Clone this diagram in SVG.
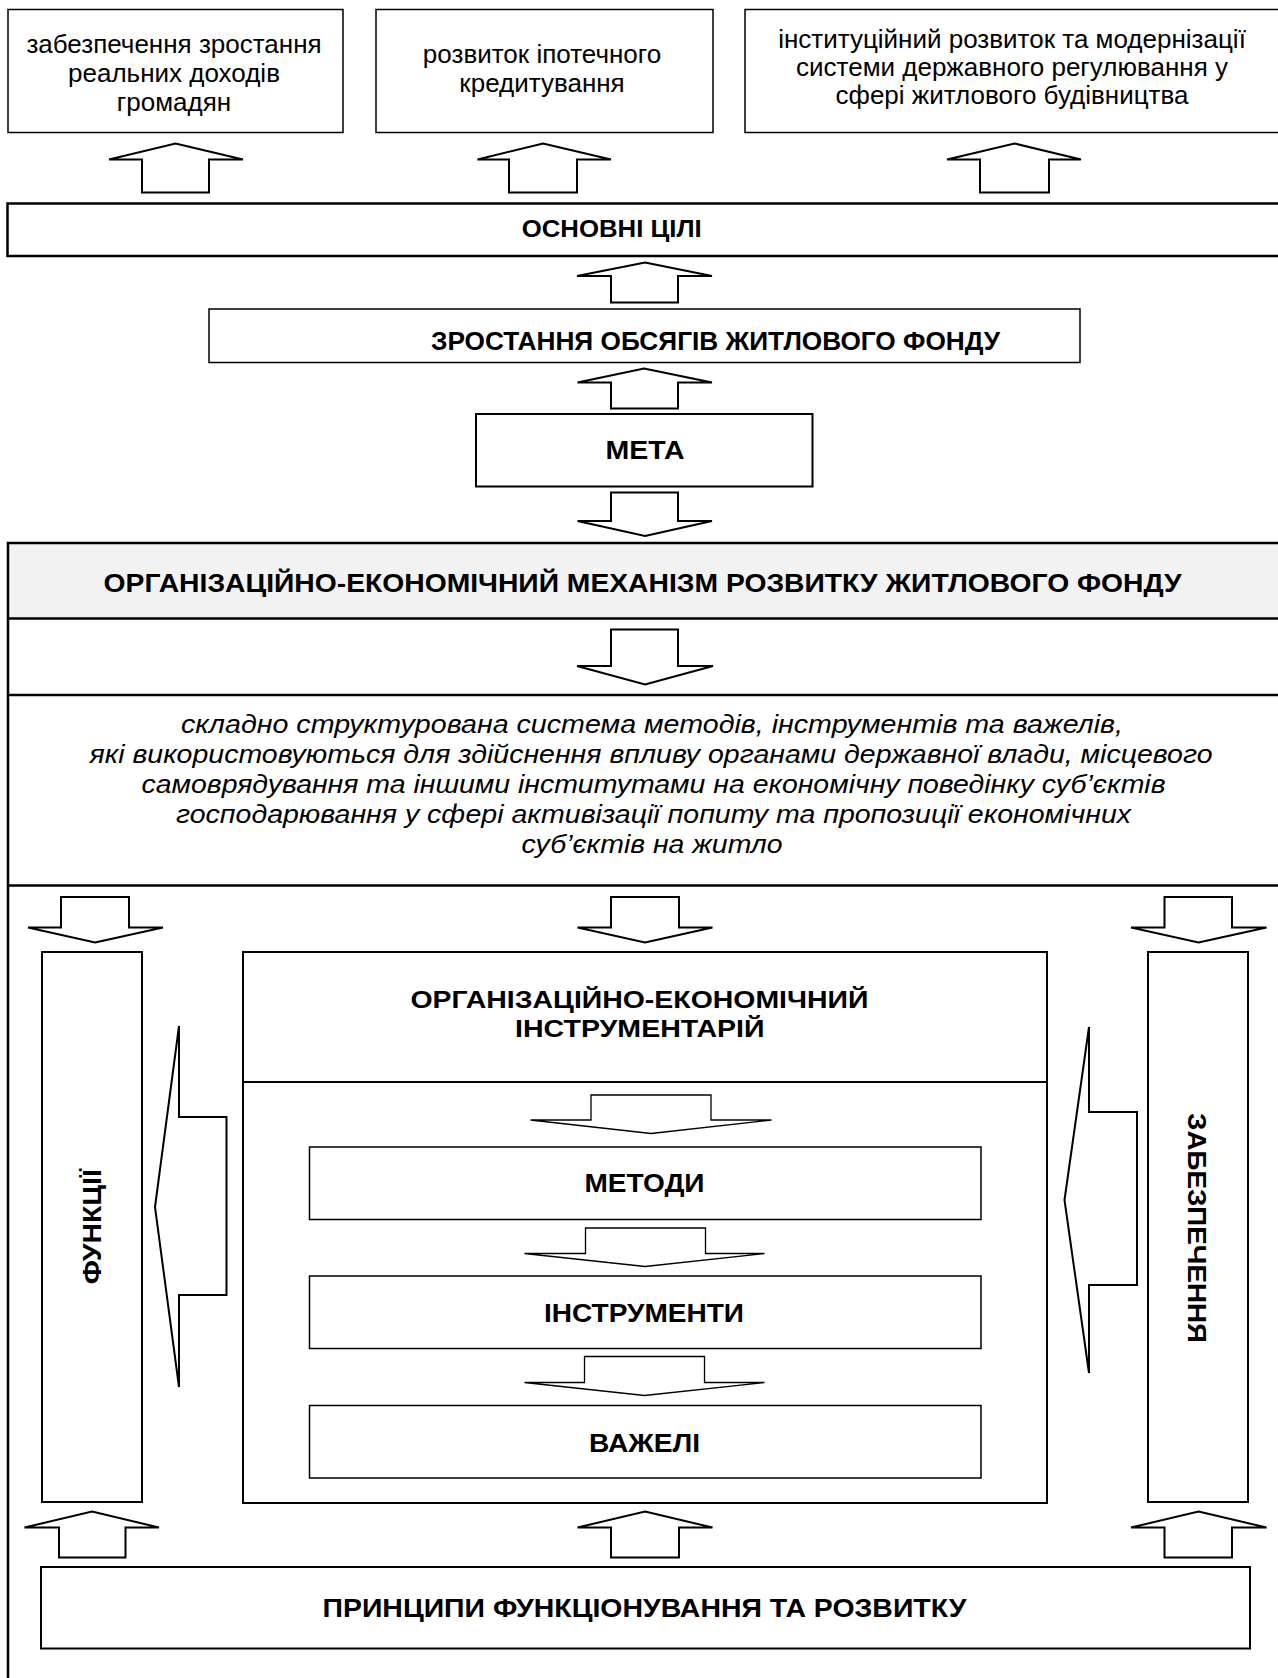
<svg xmlns="http://www.w3.org/2000/svg" width="1278" height="1678" viewBox="0 0 1278 1678">
<style>
.box{fill:#fff;stroke:#000;stroke-width:1.5}
.thick{fill:none;stroke:#000;stroke-width:2.5}
.med{fill:#fff;stroke:#000;stroke-width:2}
.arr{fill:#fff;stroke:#000;stroke-width:2;stroke-linejoin:miter}
.sarr{fill:#fff;stroke:#000;stroke-width:1.3}
.t{font-family:"Liberation Sans",Arial,sans-serif;font-size:26px;fill:#000;text-anchor:middle}
.b{font-family:"Liberation Sans",Arial,sans-serif;font-size:24px;font-weight:bold;fill:#000;text-anchor:middle}
.bl{font-size:26px}
.bm{font-size:25px}
.i{font-family:"Liberation Sans",Arial,sans-serif;font-size:25.5px;font-style:italic;fill:#000;text-anchor:middle}
</style>
<rect width="1278" height="1678" fill="#fff"/>
<g id="goal1"><rect class="box" x="8" y="9.5" width="335" height="123"/>
<text class="t" x="174" y="53">забезпечення зростання</text><text class="t" x="174" y="82">реальних доходів</text><text class="t" x="174" y="111">громадян</text></g>
<g id="goal2"><rect class="box" x="376" y="9.5" width="337" height="123"/>
<text class="t" x="542" y="63">розвиток іпотечного</text><text class="t" x="542" y="92">кредитування</text></g>
<g id="goal3"><rect class="box" x="745" y="9.5" width="545" height="123"/>
<text class="t" x="1012" y="48">інституційний розвиток та модернізації</text><text class="t" x="1012" y="76">системи державного регулювання у</text><text class="t" x="1012" y="104">сфері житлового будівництва</text></g>
<g id="main-goals"><rect class="thick" x="7.5" y="203.5" width="1290" height="52.5"/>
<text class="b" x="611.7" y="236.5" textLength="180" lengthAdjust="spacingAndGlyphs">ОСНОВНІ ЦІЛІ</text></g>
<g id="growth"><rect class="box" x="209" y="309" width="871" height="53.5"/>
<text class="b bm" x="715.5" y="350" textLength="569" lengthAdjust="spacingAndGlyphs">ЗРОСТАННЯ ОБСЯГІВ ЖИТЛОВОГО ФОНДУ</text></g>
<g id="meta"><rect class="med" x="476" y="414" width="336.5" height="72.5"/>
<text class="b bm" x="645" y="459" textLength="79" lengthAdjust="spacingAndGlyphs">МЕТА</text></g>
<g id="mechanism">
<rect x="8" y="543" width="1290" height="75" fill="#f2f2f2"/>
<rect class="thick" x="8" y="543" width="1290" height="1200"/>
<line class="thick" x1="8" y1="618.5" x2="1290" y2="618.5"/>
<line class="thick" x1="8" y1="695" x2="1290" y2="695"/>
<line class="thick" x1="8" y1="885.5" x2="1290" y2="885.5"/>
<text class="b bm" x="642.6" y="592" textLength="1078" lengthAdjust="spacingAndGlyphs">ОРГАНІЗАЦІЙНО-ЕКОНОМІЧНИЙ МЕХАНІЗМ РОЗВИТКУ ЖИТЛОВОГО ФОНДУ</text>
</g>
<g id="definition">
<text class="i" x="652" y="733" textLength="942" lengthAdjust="spacingAndGlyphs">складно структурована система методів, інструментів та важелів,</text>
<text class="i" x="651" y="763" textLength="1123" lengthAdjust="spacingAndGlyphs">які використовуються для здійснення впливу органами державної влади, місцевого</text>
<text class="i" x="653.5" y="793" textLength="1024" lengthAdjust="spacingAndGlyphs">самоврядування та іншими інститутами на економічну поведінку суб’єктів</text>
<text class="i" x="653.5" y="823" textLength="955" lengthAdjust="spacingAndGlyphs">господарювання у сфері активізації попиту та пропозиції економічних</text>
<text class="i" x="652" y="853" textLength="261" lengthAdjust="spacingAndGlyphs">суб’єктів на житло</text>
</g>
<g id="functions"><rect class="med" x="42" y="952" width="100" height="550"/>
<text class="b bm" transform="translate(101,1226.8) rotate(-90)" textLength="115" lengthAdjust="spacingAndGlyphs">ФУНКЦІЇ</text></g>
<g id="toolkit"><rect class="med" x="243" y="952" width="804" height="551"/>
<line class="med" x1="243" y1="1082" x2="1047" y2="1082"/>
<text class="b" x="639.4" y="1008" textLength="458" lengthAdjust="spacingAndGlyphs">ОРГАНІЗАЦІЙНО-ЕКОНОМІЧНИЙ</text><text class="b" x="639.8" y="1037" textLength="249.5" lengthAdjust="spacingAndGlyphs">ІНСТРУМЕНТАРІЙ</text></g>
<g id="methods"><rect class="box" x="309.5" y="1147" width="671.5" height="72.5"/><text class="b bl" x="644.5" y="1192" textLength="120" lengthAdjust="spacingAndGlyphs">МЕТОДИ</text></g>
<g id="instruments"><rect class="box" x="309.5" y="1276" width="671.5" height="72.5"/><text class="b bl" x="644" y="1321.5" textLength="200" lengthAdjust="spacingAndGlyphs">ІНСТРУМЕНТИ</text></g>
<g id="levers"><rect class="box" x="309.5" y="1405.5" width="671.5" height="72.5"/><text class="b bl" x="644.5" y="1451.5" textLength="111" lengthAdjust="spacingAndGlyphs">ВАЖЕЛІ</text></g>
<g id="provision"><rect class="med" x="1148" y="952" width="100" height="550"/>
<text class="b bm" transform="translate(1188,1228) rotate(90)" textLength="230" lengthAdjust="spacingAndGlyphs">ЗАБЕЗПЕЧЕННЯ</text></g>
<g id="principles"><rect class="med" x="41" y="1567" width="1209" height="81.5"/>
<text class="b bl" x="644.5" y="1617" textLength="644" lengthAdjust="spacingAndGlyphs">ПРИНЦИПИ ФУНКЦІОНУВАННЯ ТА РОЗВИТКУ</text></g>
<g id="connectors">
<polygon class="arr" points="175.5,143.5 243,159.5 209,159.5 209,192.5 142,192.5 142,159.5 109,159.5"/>
<polygon class="arr" points="543,143.5 611,159.5 577,159.5 577,192.5 509,192.5 509,159.5 477.5,159.5"/>
<polygon class="arr" points="1014.5,143.5 1081,159.5 1049,159.5 1049,192.5 980,192.5 980,159.5 947,159.5"/>
<polygon class="arr" points="645,262.5 712,276 678,276 678,302.5 611,302.5 611,276 577,276"/>
<polygon class="arr" points="644,368.5 712,382.5 678,382.5 678,408.5 611,408.5 611,382.5 577.5,382.5"/>
<polygon class="arr" points="645,536 712,521 678,521 678,492.5 611,492.5 611,521 577.5,521"/>
<polygon class="arr" points="645,684.5 713,666 678,666 678,629.5 611,629.5 611,666 577,666"/>
<polygon class="arr" points="95,942.5 163,927.5 129,927.5 129,897 61,897 61,927.5 28,927.5"/>
<polygon class="arr" points="645,942.5 712.5,927.5 679,927.5 679,897 611,897 611,927.5 577.5,927.5"/>
<polygon class="arr" points="1198.5,942.5 1266.5,927.5 1232,927.5 1232,897 1164.5,897 1164.5,927.5 1131,927.5"/>
<polygon class="arr" points="92,1511.5 159,1527.5 125.5,1527.5 125.5,1557.5 59,1557.5 59,1527.5 24.5,1527.5"/>
<polygon class="arr" points="645,1511.5 712.5,1527.5 679,1527.5 679,1557.5 611,1557.5 611,1527.5 577.5,1527.5"/>
<polygon class="arr" points="1198.5,1511.5 1266.5,1527.5 1232,1527.5 1232,1557.5 1164.5,1557.5 1164.5,1527.5 1131,1527.5"/>
<polygon class="sarr" points="651,1133.5 771.5,1120 711,1120 711,1095 591,1095 591,1120 530.5,1120"/>
<polygon class="sarr" points="645,1266.5 764.5,1253.5 705.5,1253.5 705.5,1228 585.5,1228 585.5,1253.5 524.5,1253.5"/>
<polygon class="sarr" points="644.5,1395.5 764.5,1382.5 704.5,1382.5 704.5,1356.5 584.5,1356.5 584.5,1382.5 524.5,1382.5"/>
<polygon class="arr" points="155,1207 179,1026 179,1117 226.5,1117 226.5,1295 179,1295 179,1387"/>
<polygon class="arr" points="1064.5,1200 1089,1027 1089,1112 1137,1112 1137,1285 1089,1285 1089,1373"/>
</g>
</svg>
